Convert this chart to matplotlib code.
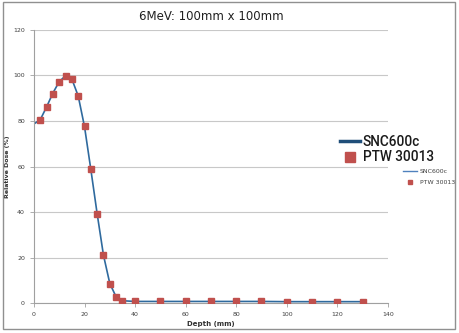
import matplotlib
matplotlib.use('Agg')
import matplotlib.pyplot as plt
from matplotlib.lines import Line2D
from matplotlib.patches import Rectangle

# PTW 30013 measured points
ptw_depth = [2.5, 5, 7.5, 10, 12.5, 15, 17.5, 20, 22.5, 25, 27.5, 30, 32.5, 35,
             40, 50, 60, 70, 80, 90, 100, 110, 120, 130]
ptw_dose = [80.3, 86.0, 92.0, 97.1, 99.8, 98.5, 90.9, 77.7, 58.9, 39.0, 21.1, 8.5, 2.6, 0.9,
            0.8, 0.7, 0.7, 0.7, 0.7, 0.7, 0.6, 0.6, 0.6, 0.6]

# SNC600c curve
snc_depth = [0, 2.5, 5, 7.5, 10, 12.5, 15, 17.5, 20, 22.5, 25, 27.5, 30, 32.5, 35,
             40, 50, 60, 70, 80, 90, 100, 110, 120, 130]
snc_dose = [78.7, 80.6, 86.2, 92.3, 97.3, 99.9, 98.4, 91.0, 77.5, 58.7, 39.2, 21.0, 8.6, 2.7, 1.0,
            0.7, 0.7, 0.7, 0.7, 0.7, 0.7, 0.6, 0.6, 0.6, 0.6]

fig = plt.figure(figsize=(4.59, 3.33), dpi=100)
ax = fig.add_axes([0.074, 0.09, 0.771, 0.82])

line_col = '#2F6A9E'
mark_col = '#C0504D'
ax.plot(snc_depth, snc_dose, color=line_col, lw=1.2, zorder=2)
ax.plot(ptw_depth, ptw_dose, ls='none', marker='s', ms=5, color=mark_col, zorder=3)

ax.set_xlim(0, 140)
ax.set_ylim(0, 120)
ax.set_xticks(range(0, 141, 20))
ax.set_yticks(range(0, 121, 20))
ax.yaxis.grid(True, color='#c8c8c8', lw=0.8)
ax.set_axisbelow(True)
for s in ['top', 'right']:
    ax.spines[s].set_visible(False)
for s in ['left', 'bottom']:
    ax.spines[s].set_color('#a0a0a0')
    ax.spines[s].set_linewidth(0.8)
ax.tick_params(labelsize=4.5, colors='#a0a0a0', labelcolor='#404040', length=3, width=0.6)
ax.set_xlabel('Depth (mm)', fontsize=5, fontweight='bold', color='#303030', labelpad=3)
ax.set_ylabel('Relative Dose (%)', fontsize=4.5, fontweight='bold', color='#303030')
ax.yaxis.set_label_coords(-0.068, 0.5)
ax.set_title('6MeV: 100mm x 100mm', fontsize=8.5, color='#202020', pad=7)

# big legend
big = [Line2D([], [], color='#1F4E79', lw=2.5),
       Line2D([], [], ls='none', marker='s', ms=7, color=mark_col)]
leg1 = fig.legend(big, ['SNC600c', 'PTW 30013'], loc='upper left',
                  bbox_to_anchor=(0.725, 0.615), frameon=False,
                  prop={'family': 'Roboto', 'size': 9.8, 'weight': 'medium'},
                  handlelength=1.5, handletextpad=0.2, labelspacing=0.1, borderpad=0)
for t in leg1.get_texts():
    t.set_color('#1a1a1a')

# small legend
small = [Line2D([], [], color='#4F81BD', lw=1.0),
         Line2D([], [], ls='none', marker='s', ms=3, color=mark_col)]
leg2 = fig.legend(small, ['SNC600c', 'PTW 30013'], loc='upper left',
                  bbox_to_anchor=(0.872, 0.502), frameon=False,
                  prop={'size': 4.5}, handlelength=2.2, handletextpad=0.4,
                  labelspacing=0.9, borderpad=0)
for t in leg2.get_texts():
    t.set_color('#404040')

fig.patches.append(Rectangle((0.007, 0.012), 0.985, 0.982, transform=fig.transFigure,
                             fill=False, edgecolor='#909090', lw=1.0))

fig.savefig('out.png', dpi=100)
